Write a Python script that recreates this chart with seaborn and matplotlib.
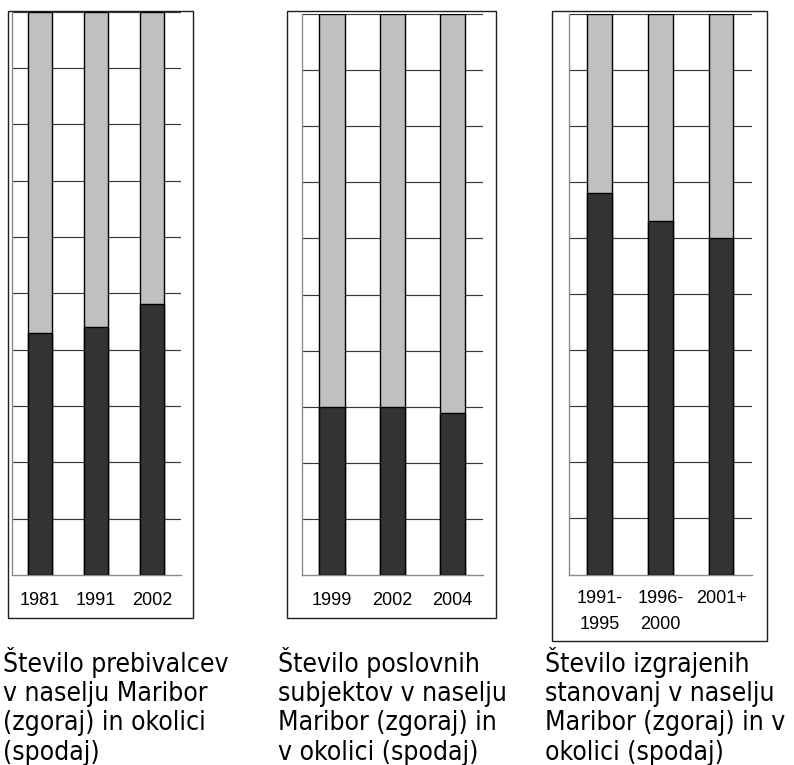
import matplotlib
matplotlib.use("Agg")
import matplotlib.pyplot as plt
from matplotlib.patches import Rectangle
import seaborn as sns
import pandas as pd

# ---- data (percent shares) ----
cats1 = ["1981", "1991", "2002"]
okolica1 = [42.9, 44.0, 48.1]      # dark, bottom
maribor1 = [57.1, 56.0, 51.9]      # light, top

cats2 = ["1999", "2002", "2004"]
okolica2 = [29.9, 30.0, 28.9]
maribor2 = [70.1, 70.0, 71.1]

cats3 = ["1991-\n1995", "1996-\n2000", "2001+"]
okolica3 = [68.1, 63.0, 60.0]
maribor3 = [31.9, 37.0, 40.0]

captions = [
    "Število prebivalcev\nv naselju Maribor\n(zgoraj) in okolici\n(spodaj)",
    "Število poslovnih\nsubjektov v naselju\nMaribor (zgoraj) in\nv okolici (spodaj)",
    "Število izgrajenih\nstanovanj v naselju\nMaribor (zgoraj) in v\nokolici (spodaj)",
]

sns.set_theme(style="white")
plt.rcParams["font.family"] = ["Liberation Sans", "DejaVu Sans"]

W, H = 794, 765
fig = plt.figure(figsize=(W / 100, H / 100), dpi=100)
fig.patch.set_facecolor("white")

DARK = "#333333"
LIGHT = "#c0c0c0"


def px_axes(x0, x1, y0, y1):
    return fig.add_axes([x0 / W, 1 - y1 / H, (x1 - x0) / W, (y1 - y0) / H])


def frame(x0, x1, y0, y1):
    fig.add_artist(Rectangle((x0 / W, 1 - y1 / H), (x1 - x0) / W, (y1 - y0) / H,
                             transform=fig.transFigure, fill=False,
                             edgecolor="#1e1e1e", linewidth=1.0, zorder=0))


panels = [
    dict(cats=cats1, low=okolica1, high=maribor1, ax=(11.7, 180.5, 11.5, 575), fr=(8, 193, 10.7, 617.7), bw=0.43, pad=12.5),
    dict(cats=cats2, low=okolica2, high=maribor2, ax=(302, 482.7, 14, 575), fr=(287, 496, 11, 617.5), bw=0.42, pad=12.5),
    dict(cats=cats3, low=okolica3, high=maribor3, ax=(569, 751.7, 14, 574.5), fr=(552, 767, 11, 640.7), bw=0.40, pad=11.5),
]

for p in panels:
    frame(*p["fr"])
    ax = px_axes(*p["ax"])
    df = pd.DataFrame({"cat": p["cats"], "low": p["low"], "high": p["high"]})
    df["total"] = df["low"] + df["high"]
    sns.barplot(data=df, x="cat", y="total", color=LIGHT, saturation=1,
                edgecolor="black", linewidth=1.0, width=p["bw"], ax=ax, zorder=3)
    sns.barplot(data=df, x="cat", y="low", color=DARK, saturation=1,
                edgecolor="black", linewidth=1.0, width=p["bw"], ax=ax, zorder=4)
    ax.set_xlim(-0.5, len(p["cats"]) - 0.5)
    ax.set_ylim(0, 100)
    ax.set_xlabel("")
    ax.set_ylabel("")
    ax.set_yticks(range(10, 101, 10))
    ax.set_yticklabels([])
    ax.tick_params(axis="y", length=0)
    ax.yaxis.grid(True, color="#383838", linewidth=0.85)
    ax.xaxis.grid(False)
    ax.set_axisbelow(True)
    ax.set_facecolor("none")
    for s in ["top", "right"]:
        ax.spines[s].set_visible(False)
    for s in ["left", "bottom"]:
        ax.spines[s].set_visible(True)
        ax.spines[s].set_color("#8a8a8a")
        ax.spines[s].set_linewidth(1.0)
    n = len(p["cats"])
    ax.set_xticks([i - 0.5 for i in range(n + 1)])
    ax.set_xticklabels([""] * (n + 1))
    ax.tick_params(axis="x", which="major", direction="out", length=3.6,
                   width=0.8, color="#8a8a8a")
    ax.set_xticks(list(range(n)), minor=True)
    ax.set_xticklabels(p["cats"], minor=True)
    ax.tick_params(axis="x", which="minor", length=0, pad=p["pad"],
                   labelsize=13, labelcolor="black")
    for lbl in ax.get_xticklabels(minor=True):
        lbl.set_linespacing(1.62)
        lbl.set_fontfamily(["Liberation Sans", "DejaVu Sans"])

cap_x = [3, 278, 545]
for x, t in zip(cap_x, captions):
    fig.text(x / W, 1 - 647 / H, t, ha="left", va="top",
             fontsize=19, family=["DejaVu Sans"], fontstretch="condensed",
             linespacing=1.16, color="black")

fig.savefig("out.png", dpi=100, facecolor="white")
